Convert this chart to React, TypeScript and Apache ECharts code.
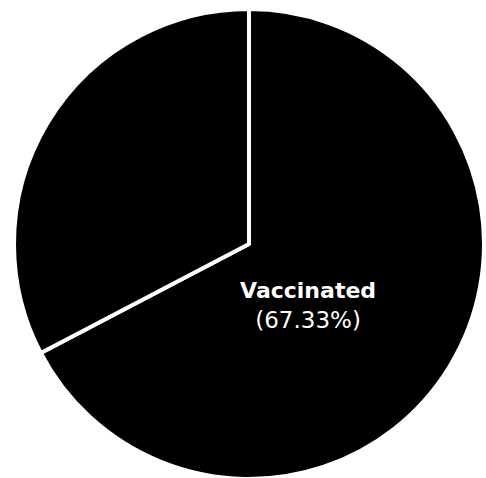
import React, { useEffect, useRef } from "react";
import * as echarts from "echarts";

const sliceNames = ["Vaccinated", "Not Vaccinated"];
const sliceValues = [67.33, 32.67];
const labelShown = [true, false];

export default function App() {
  const ref = useRef<HTMLDivElement>(null);
  useEffect(() => {
    if (!ref.current) return;
    const chart = echarts.init(ref.current, null, { renderer: "svg" });
    chart.setOption({
      animation: false,
      backgroundColor: "#ffffff",
      series: [
        {
          type: "pie",
          center: [249, 244],
          radius: 235,
          startAngle: 90,
          clockwise: true,
          avoidLabelOverlap: false,
          itemStyle: { color: "#000000", borderColor: "#ffffff", borderWidth: 4 },
          labelLine: { show: false },
          emphasis: { disabled: true },
          data: sliceNames.map((n, i) => ({
            name: n,
            value: sliceValues[i],
            label: {
              show: labelShown[i],
              position: "inside",
              offset: [-44, -1],
              formatter: (p: any) => `{b|${p.name}}\n{p|(${p.value.toFixed(2)}%)}`,
              rich: {
                b: { color: "#fff", fontFamily: "DejaVu Sans", fontWeight: "bold", fontSize: 22, lineHeight: 29, align: "center" },
                p: { color: "#fff", fontFamily: "DejaVu Sans", fontSize: 23, lineHeight: 29, align: "center" },
              },
            },
          })),
        },
      ],
    });
    return () => chart.dispose();
  }, []);
  return <div ref={ref} style={{ position: "fixed", left: 0, top: 0, width: 486, height: 478 }} />;
}
